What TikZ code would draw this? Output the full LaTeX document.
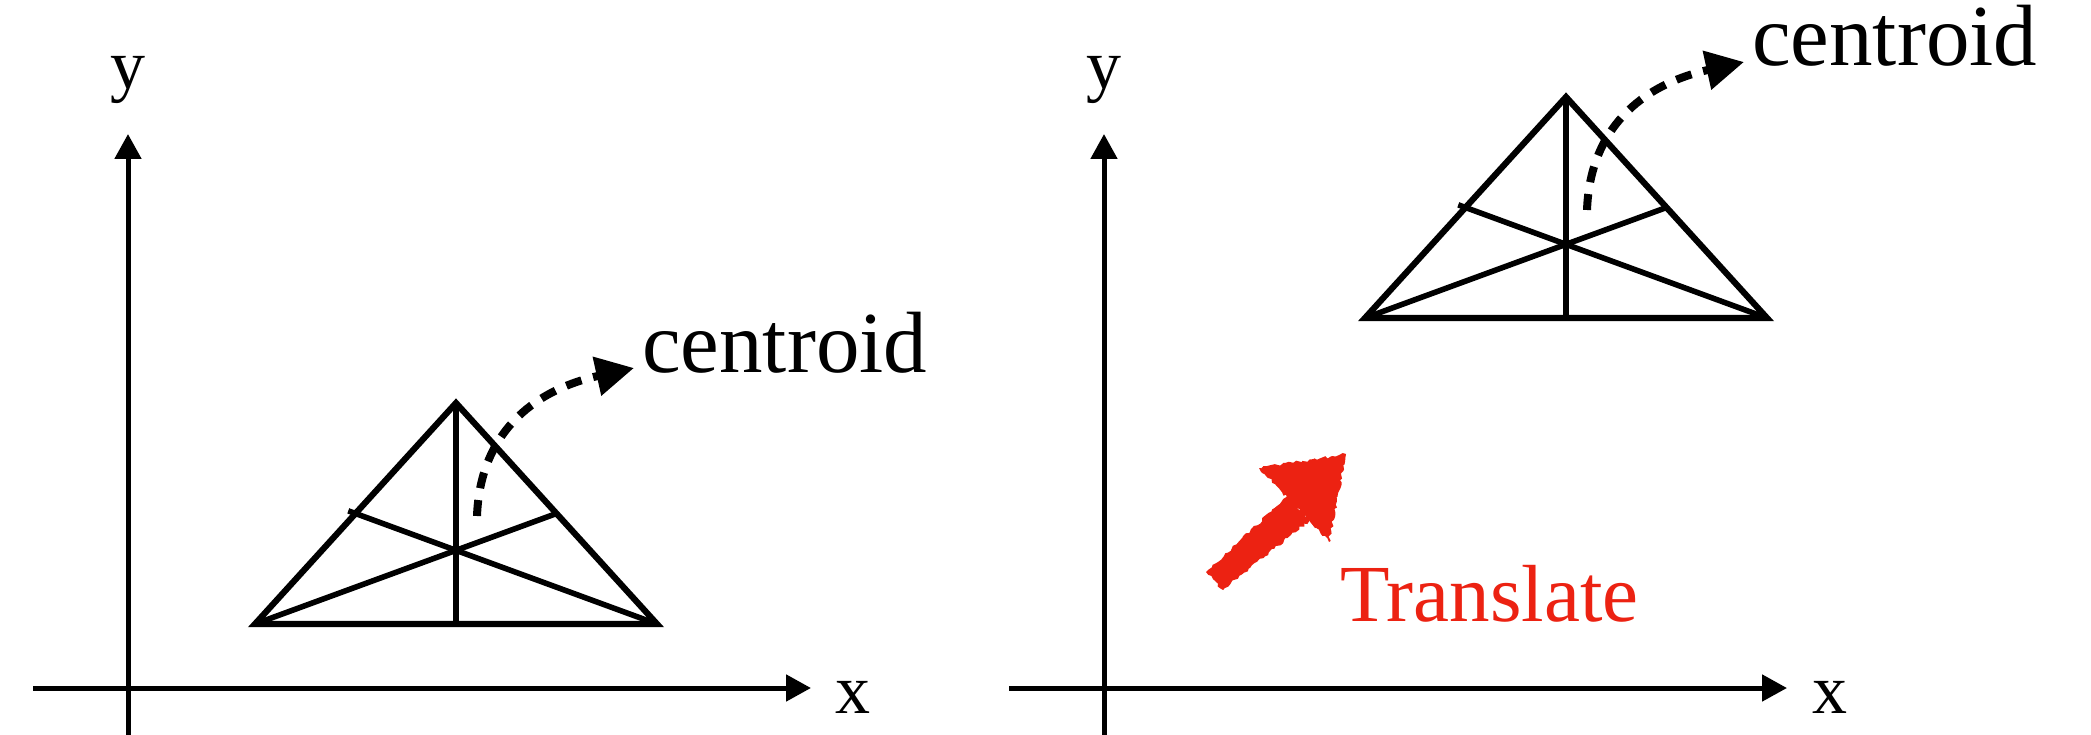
\documentclass[tikz,border=0pt]{standalone}
\usepackage{fontspec}
\setmainfont{Liberation Serif}
\usetikzlibrary{arrows.meta,calc,decorations.pathmorphing}
\definecolor{tred}{RGB}{236,34,18}
\newcommand{\centroidgroup}[1]{%
  \coordinate (#1A) at (255,624);
  \coordinate (#1B) at (657,624);
  \coordinate (#1C) at (456,403);
  \coordinate (#1mAB) at ($(#1A)!0.5!(#1B)$);
  \coordinate (#1mAC) at ($(#1A)!0.5!(#1C)$);
  \coordinate (#1mBC) at ($(#1B)!0.5!(#1C)$);
  \draw[tri] (#1A) -- (#1B) -- (#1C) -- cycle;
  \draw[med] (#1C) -- ($(#1C)!1.015!(#1mAB)$);
  \draw[med] (#1B) -- ($(#1B)!1.024!(#1mAC)$);
  \draw[med] (#1A) -- (#1mBC);
  \coordinate (#1s) at (477,516);
  \coordinate (#1t) at (634,368);
  \node[clabel] (#1lab) at (642,372) {centroid};
  \draw[cdash] (#1s) .. controls (480,436) and (530,391) .. (#1t);
}
\begin{document}
\begin{tikzpicture}[x=1pt,y=-1pt,
  axis/.style={line width=5pt,-{Triangle[length=25pt,width=26pt]}},
  tri/.style={line width=6.2pt},
  med/.style={line width=5.6pt},
  cdash/.style={line width=8pt,dash pattern=on 16pt off 12pt,-{Triangle[length=38pt,width=38pt]}},
  axlabel/.style={font=\fontsize{70}{84}\selectfont,inner sep=0pt,anchor=base},
  clabel/.style={font=\fontsize{87}{100}\selectfont,inner sep=0pt,anchor=base west},
  rough/.style={decorate,decoration={random steps,segment length=3pt,amplitude=1.5pt}},
]
\useasboundingbox[fill=white] (0,0) rectangle (2091,735);
\pgfmathsetseed{7}
% ---- left axes
\coordinate (lx0) at (33,688);
\coordinate (lx1) at (811,688);
\coordinate (ly0) at (128,735);
\coordinate (ly1) at (128,134);
\draw[axis] (lx0) -- (lx1);
\draw[axis] (ly0) -- (ly1);
\node[axlabel] (lxl) at (853,713) {x};
\node[axlabel] (lyl) at (128,89) {y};
% ---- right axes
\coordinate (rx0) at (1009,688);
\coordinate (rx1) at (1787,688);
\coordinate (ry0) at (1104,735);
\coordinate (ry1) at (1104,134);
\draw[axis] (rx0) -- (rx1);
\draw[axis] (ry0) -- (ry1);
\node[axlabel] (rxl) at (1830,713) {x};
\node[axlabel] (ryl) at (1104,89) {y};
% ---- triangles
\begin{scope}
\centroidgroup{L}
\end{scope}
\begin{scope}[shift={(1110,-306)}]
\centroidgroup{R}
\end{scope}
% ---- red translate arrow
\coordinate (ta1) at (1223,590);
\coordinate (ta2) at (1206,572);
\coordinate (tb1) at (1310,520);
\coordinate (tb2) at (1288,496);
\fill[tred,rough] (ta1) -- (tb1) -- (tb2) -- (ta2) -- cycle;
\coordinate (h1) at (1259,468);
\coordinate (h2) at (1346,454);
\coordinate (h3) at (1329,542);
\fill[tred,rough] (h1) -- (h2) -- (h3) -- cycle;
\node[font=\fontsize{81}{96}\selectfont,text=tred,anchor=base west,inner sep=0pt] (tr) at (1340,621) {Translate};
\end{tikzpicture}
\end{document}
